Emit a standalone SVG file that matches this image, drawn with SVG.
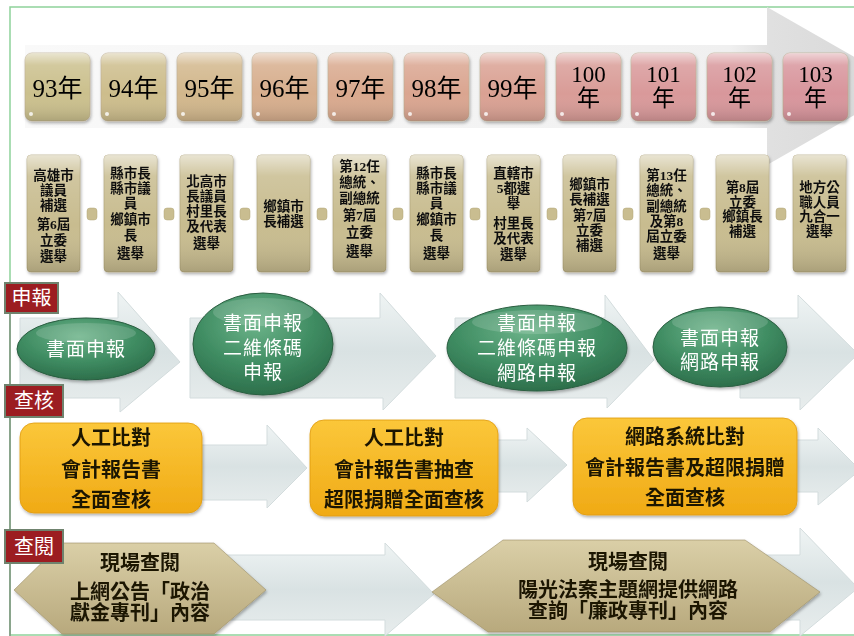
<svg xmlns="http://www.w3.org/2000/svg" width="854" height="636" viewBox="0 0 854 636">
<defs>
<style>
.yr{font-family:"Liberation Serif","Noto Sans CJK TC",serif;font-size:25px;fill:#000;text-anchor:middle}
.yr2{font-family:"Liberation Serif","Noto Sans CJK TC",serif;font-size:23px;fill:#000;text-anchor:middle}
.el{font-family:"Liberation Serif","Noto Sans CJK TC",serif;font-size:13.5px;font-weight:bold;fill:#111;text-anchor:middle}
.wt{font-family:"Liberation Serif","Noto Sans CJK TC",serif;font-size:19px;fill:#fff;text-anchor:middle;letter-spacing:1px}
.ob{font-family:"Liberation Serif","Noto Sans CJK TC",serif;font-size:20px;font-weight:bold;fill:#1a1406;text-anchor:middle}
.hx{font-family:"Liberation Serif","Noto Sans CJK TC",serif;font-size:20px;font-weight:bold;fill:#1a1406;text-anchor:middle}
.lbl{font-family:"Liberation Serif","Noto Sans CJK TC",serif;font-size:20px;fill:#fff;text-anchor:middle}
.lblbox{fill:#9c1d21;stroke:#6f836e;stroke-width:2}
.flow{fill:url(#flowG);stroke:#d3dcdd;stroke-width:1}
.dot{fill:#c9bd90;stroke:#b3a67a;stroke-width:0.5}
.ybox{stroke:#b9a88a;stroke-width:0.6}
.ebox{fill:#c8bc8f;stroke:#a99c70;stroke-width:0.6}
</style>
<linearGradient id="gloss" x1="0" y1="0" x2="0" y2="1">
<stop offset="0" stop-color="#fff" stop-opacity="0.6"/>
<stop offset="0.18" stop-color="#fff" stop-opacity="0.15"/>
<stop offset="0.6" stop-color="#fff" stop-opacity="0"/>
<stop offset="1" stop-color="#000" stop-opacity="0.15"/>
</linearGradient>
<linearGradient id="bigG" x1="25" y1="0" x2="854" y2="0" gradientUnits="userSpaceOnUse">
<stop offset="0" stop-color="#f9f9f9"/>
<stop offset="0.85" stop-color="#f0f0f0"/>
<stop offset="0.9" stop-color="#e0e0e0"/>
<stop offset="1" stop-color="#dadada"/>
</linearGradient>
<linearGradient id="flowG" x1="0" y1="0" x2="0" y2="1">
<stop offset="0" stop-color="#eff4f4"/>
<stop offset="0.5" stop-color="#d9e2e3"/>
<stop offset="1" stop-color="#e8eded"/>
</linearGradient>
<radialGradient id="greenG" cx="0.45" cy="0.3" r="0.75">
<stop offset="0" stop-color="#6cb389"/>
<stop offset="0.55" stop-color="#3f8c62"/>
<stop offset="1" stop-color="#2a6a47"/>
</radialGradient>
<linearGradient id="orangeG" x1="0" y1="0" x2="0" y2="1">
<stop offset="0" stop-color="#fbc73a"/>
<stop offset="1" stop-color="#f0aa15"/>
</linearGradient>
<linearGradient id="hexG" x1="0" y1="0" x2="0" y2="1">
<stop offset="0" stop-color="#dacfa7"/>
<stop offset="1" stop-color="#b8a97d"/>
</linearGradient>
<filter id="sh" x="-20%" y="-20%" width="140%" height="140%">
<feDropShadow dx="1" dy="2" stdDeviation="1.5" flood-color="#000" flood-opacity="0.3"/>
</filter>
</defs>

<rect x="0" y="0" width="854" height="636" fill="#ffffff"/>
<rect x="10" y="7" width="850" height="628" fill="none" stroke="#8fd29b" stroke-width="1.5"/>

<!-- big timeline arrow -->
<polygon id="timeline-arrow" points="25,45 767,45 767,7 905,86 767,165 767,128 25,128" fill="url(#bigG)"/>

<g id="connectors">
<polygon class="flow" points="20,318 118,318 118,292 180,362 120,412 120,398 20,398"/>
<polygon class="flow" points="190,318 380,318 380,293 436,356 383,410 383,398 190,398"/>
<polygon class="flow" points="455,318 605,318 605,295 654,360 607,408 607,398 455,398"/>
<polygon class="flow" points="740,318 798,318 798,295 858,354 800,410 800,398 740,398"/>
<polygon class="flow" points="200,445 267,445 267,425 307,468 267,508 267,500 200,500"/>
<polygon class="flow" points="496,440 527,440 527,428 567,465 527,502 527,492 496,492"/>
<polygon class="flow" points="795,440 818,440 818,428 860,470 818,505 818,492 795,492"/>
<polygon class="flow" points="212,555 385,555 385,543 434,594 385,636 385,620 212,620"/>
<polygon class="flow" points="745,555 800,555 800,528 858,588 800,636 800,620 745,620"/>
<rect class="dot" x="87" y="208" width="10" height="12" rx="3"/>
<rect class="dot" x="164" y="208" width="10" height="12" rx="3"/>
<rect class="dot" x="240" y="208" width="10" height="12" rx="3"/>
<rect class="dot" x="317" y="208" width="10" height="12" rx="3"/>
<rect class="dot" x="393" y="208" width="10" height="12" rx="3"/>
<rect class="dot" x="470" y="208" width="10" height="12" rx="3"/>
<rect class="dot" x="547" y="208" width="10" height="12" rx="3"/>
<rect class="dot" x="623" y="208" width="10" height="12" rx="3"/>
<rect class="dot" x="700" y="208" width="10" height="12" rx="3"/>
<rect class="dot" x="776" y="208" width="10" height="12" rx="3"/>
</g>

<!-- year boxes -->
<g id="y93" filter="url(#sh)"><rect class="ybox" x="25" y="53" width="65" height="68" rx="7" fill="#cbc08d"/><rect x="25" y="53" width="65" height="68" rx="7" fill="url(#gloss)"/><circle cx="31" cy="114" r="2" fill="#fff" opacity="0.8"/><text class="yr" x="57.5" y="97">93年</text></g>
<g id="y94" filter="url(#sh)"><rect class="ybox" x="101" y="53" width="65" height="68" rx="7" fill="#cdbd8c"/><rect x="101" y="53" width="65" height="68" rx="7" fill="url(#gloss)"/><circle cx="107" cy="114" r="2" fill="#fff" opacity="0.8"/><text class="yr" x="133.5" y="97">94年</text></g>
<g id="y95" filter="url(#sh)"><rect class="ybox" x="177" y="53" width="65" height="68" rx="7" fill="#d2b78c"/><rect x="177" y="53" width="65" height="68" rx="7" fill="url(#gloss)"/><circle cx="183" cy="114" r="2" fill="#fff" opacity="0.8"/><text class="yr" x="209.5" y="97">95年</text></g>
<g id="y96" filter="url(#sh)"><rect class="ybox" x="252" y="53" width="65" height="68" rx="7" fill="#d7ae8d"/><rect x="252" y="53" width="65" height="68" rx="7" fill="url(#gloss)"/><circle cx="258" cy="114" r="2" fill="#fff" opacity="0.8"/><text class="yr" x="284.5" y="97">96年</text></g>
<g id="y97" filter="url(#sh)"><rect class="ybox" x="328" y="53" width="65" height="68" rx="7" fill="#d9a98e"/><rect x="328" y="53" width="65" height="68" rx="7" fill="url(#gloss)"/><circle cx="334" cy="114" r="2" fill="#fff" opacity="0.8"/><text class="yr" x="360.5" y="97">97年</text></g>
<g id="y98" filter="url(#sh)"><rect class="ybox" x="404" y="53" width="65" height="68" rx="7" fill="#daa590"/><rect x="404" y="53" width="65" height="68" rx="7" fill="url(#gloss)"/><circle cx="410" cy="114" r="2" fill="#fff" opacity="0.8"/><text class="yr" x="436.5" y="97">98年</text></g>
<g id="y99" filter="url(#sh)"><rect class="ybox" x="480" y="53" width="65" height="68" rx="7" fill="#daa193"/><rect x="480" y="53" width="65" height="68" rx="7" fill="url(#gloss)"/><circle cx="486" cy="114" r="2" fill="#fff" opacity="0.8"/><text class="yr" x="512.5" y="97">99年</text></g>
<g id="y100" filter="url(#sh)"><rect class="ybox" x="556" y="53" width="65" height="68" rx="7" fill="#d99c97"/><rect x="556" y="53" width="65" height="68" rx="7" fill="url(#gloss)"/><circle cx="562" cy="114" r="2" fill="#fff" opacity="0.8"/><text class="yr2" x="588.5" y="82">100</text><text class="yr2" x="588.5" y="106">年</text></g>
<g id="y101" filter="url(#sh)"><rect class="ybox" x="631" y="53" width="65" height="68" rx="7" fill="#d9999a"/><rect x="631" y="53" width="65" height="68" rx="7" fill="url(#gloss)"/><circle cx="637" cy="114" r="2" fill="#fff" opacity="0.8"/><text class="yr2" x="663.5" y="82">101</text><text class="yr2" x="663.5" y="106">年</text></g>
<g id="y102" filter="url(#sh)"><rect class="ybox" x="707" y="53" width="65" height="68" rx="7" fill="#d8979b"/><rect x="707" y="53" width="65" height="68" rx="7" fill="url(#gloss)"/><circle cx="713" cy="114" r="2" fill="#fff" opacity="0.8"/><text class="yr2" x="739.5" y="82">102</text><text class="yr2" x="739.5" y="106">年</text></g>
<g id="y103" filter="url(#sh)"><rect class="ybox" x="783" y="53" width="65" height="68" rx="7" fill="#d8959c"/><rect x="783" y="53" width="65" height="68" rx="7" fill="url(#gloss)"/><circle cx="789" cy="114" r="2" fill="#fff" opacity="0.8"/><text class="yr2" x="815.5" y="82">103</text><text class="yr2" x="815.5" y="106">年</text></g>

<!-- election boxes -->
<g id="e93" filter="url(#sh)"><rect class="ebox" x="27" y="155" width="53" height="117" rx="4"/><rect x="27" y="155" width="53" height="117" rx="4" fill="url(#gloss)"/>
<text class="el" x="53.5" y="180">高雄市</text><text class="el" x="53.5" y="195">議員</text><text class="el" x="53.5" y="210">補選</text><text class="el" x="53.5" y="229">第6屆</text><text class="el" x="53.5" y="245">立委</text><text class="el" x="53.5" y="261">選舉</text></g>
<g id="e94" filter="url(#sh)"><rect class="ebox" x="104" y="155" width="53" height="117" rx="4"/><rect x="104" y="155" width="53" height="117" rx="4" fill="url(#gloss)"/>
<text class="el" x="130.5" y="178">縣市長</text><text class="el" x="130.5" y="193">縣市議</text><text class="el" x="130.5" y="208">員</text><text class="el" x="130.5" y="224">鄉鎮市</text><text class="el" x="130.5" y="240">長</text><text class="el" x="130.5" y="258">選舉</text></g>
<g id="e95" filter="url(#sh)"><rect class="ebox" x="180" y="155" width="53" height="117" rx="4"/><rect x="180" y="155" width="53" height="117" rx="4" fill="url(#gloss)"/>
<text class="el" x="206.5" y="186">北高市</text><text class="el" x="206.5" y="201">長議員</text><text class="el" x="206.5" y="216">村里長</text><text class="el" x="206.5" y="231">及代表</text><text class="el" x="206.5" y="248">選舉</text></g>
<g id="e96" filter="url(#sh)"><rect class="ebox" x="257" y="155" width="53" height="117" rx="4"/><rect x="257" y="155" width="53" height="117" rx="4" fill="url(#gloss)"/>
<text class="el" x="283.5" y="211">鄉鎮市</text><text class="el" x="283.5" y="226">長補選</text></g>
<g id="e97" filter="url(#sh)"><rect class="ebox" x="333" y="155" width="53" height="117" rx="4"/><rect x="333" y="155" width="53" height="117" rx="4" fill="url(#gloss)"/>
<text class="el" x="359.5" y="171">第12任</text><text class="el" x="359.5" y="187">總統、</text><text class="el" x="359.5" y="203">副總統</text><text class="el" x="359.5" y="220">第7屆</text><text class="el" x="359.5" y="237">立委</text><text class="el" x="359.5" y="256">選舉</text></g>
<g id="e98" filter="url(#sh)"><rect class="ebox" x="410" y="155" width="53" height="117" rx="4"/><rect x="410" y="155" width="53" height="117" rx="4" fill="url(#gloss)"/>
<text class="el" x="436.5" y="178">縣市長</text><text class="el" x="436.5" y="193">縣市議</text><text class="el" x="436.5" y="208">員</text><text class="el" x="436.5" y="224">鄉鎮市</text><text class="el" x="436.5" y="240">長</text><text class="el" x="436.5" y="258">選舉</text></g>
<g id="e99" filter="url(#sh)"><rect class="ebox" x="487" y="155" width="53" height="117" rx="4"/><rect x="487" y="155" width="53" height="117" rx="4" fill="url(#gloss)"/>
<text class="el" x="513.5" y="178">直轄市</text><text class="el" x="513.5" y="193">5都選</text><text class="el" x="513.5" y="208">舉</text><text class="el" x="513.5" y="228">村里長</text><text class="el" x="513.5" y="243">及代表</text><text class="el" x="513.5" y="259">選舉</text></g>
<g id="e100" filter="url(#sh)"><rect class="ebox" x="563" y="155" width="53" height="117" rx="4"/><rect x="563" y="155" width="53" height="117" rx="4" fill="url(#gloss)"/>
<text class="el" x="589.5" y="189">鄉鎮市</text><text class="el" x="589.5" y="204">長補選</text><text class="el" x="589.5" y="220">第7屆</text><text class="el" x="589.5" y="235">立委</text><text class="el" x="589.5" y="250">補選</text></g>
<g id="e101" filter="url(#sh)"><rect class="ebox" x="640" y="155" width="53" height="117" rx="4"/><rect x="640" y="155" width="53" height="117" rx="4" fill="url(#gloss)"/>
<text class="el" x="666.5" y="180">第13任</text><text class="el" x="666.5" y="195">總統、</text><text class="el" x="666.5" y="211">副總統</text><text class="el" x="666.5" y="226">及第8</text><text class="el" x="666.5" y="241">屆立委</text><text class="el" x="666.5" y="258">選舉</text></g>
<g id="e102" filter="url(#sh)"><rect class="ebox" x="716" y="155" width="53" height="117" rx="4"/><rect x="716" y="155" width="53" height="117" rx="4" fill="url(#gloss)"/>
<text class="el" x="742.5" y="192">第8屆</text><text class="el" x="742.5" y="207">立委</text><text class="el" x="742.5" y="221">鄉鎮長</text><text class="el" x="742.5" y="236">補選</text></g>
<g id="e103" filter="url(#sh)"><rect class="ebox" x="793" y="155" width="53" height="117" rx="4"/><rect x="793" y="155" width="53" height="117" rx="4" fill="url(#gloss)"/>
<text class="el" x="819.5" y="192">地方公</text><text class="el" x="819.5" y="207">職人員</text><text class="el" x="819.5" y="221">九合一</text><text class="el" x="819.5" y="236">選舉</text></g>

<line x1="10" y1="313" x2="10" y2="636" stroke="#7f927f" stroke-width="1.5"/>

<!-- 申報 row -->
<g id="sb1" filter="url(#sh)"><ellipse cx="86" cy="349" rx="69" ry="31" fill="url(#greenG)" stroke="#2b5e41" stroke-width="1"/><ellipse cx="86" cy="333" rx="50" ry="10" fill="#fff" opacity="0.15"/><text class="wt" x="86" y="356">書面申報</text></g>
<g id="sb2" filter="url(#sh)"><ellipse cx="263" cy="344" rx="70" ry="51" fill="url(#greenG)" stroke="#2b5e41" stroke-width="1"/><ellipse cx="263" cy="312" rx="50" ry="14" fill="#fff" opacity="0.15"/><text class="wt" x="263" y="330">書面申報</text><text class="wt" x="263" y="355">二維條碼</text><text class="wt" x="263" y="379">申報</text></g>
<g id="sb3" filter="url(#sh)"><ellipse cx="537" cy="348" rx="90" ry="43" fill="url(#greenG)" stroke="#2b5e41" stroke-width="1"/><ellipse cx="537" cy="322" rx="65" ry="12" fill="#fff" opacity="0.15"/><text class="wt" x="537" y="330">書面申報</text><text class="wt" x="537" y="355">二維條碼申報</text><text class="wt" x="537" y="380">網路申報</text></g>
<g id="sb4" filter="url(#sh)"><ellipse cx="720" cy="347" rx="67" ry="40" fill="url(#greenG)" stroke="#2b5e41" stroke-width="1"/><ellipse cx="720" cy="322" rx="48" ry="11" fill="#fff" opacity="0.15"/><text class="wt" x="720" y="345">書面申報</text><text class="wt" x="720" y="369">網路申報</text></g>

<!-- 查核 row -->
<g id="ck1" filter="url(#sh)"><rect x="20" y="423" width="182" height="90" rx="14" fill="url(#orangeG)" stroke="#e09a10" stroke-width="0.8"/><text class="ob" x="111" y="445">人工比對</text><text class="ob" x="111" y="477">會計報告書</text><text class="ob" x="111" y="507">全面查核</text></g>
<g id="ck2" filter="url(#sh)"><rect x="310" y="420" width="188" height="96" rx="14" fill="url(#orangeG)" stroke="#e09a10" stroke-width="0.8"/><text class="ob" x="404" y="445">人工比對</text><text class="ob" x="404" y="477">會計報告書抽查</text><text class="ob" x="404" y="507">超限捐贈全面查核</text></g>
<g id="ck3" filter="url(#sh)"><rect x="573" y="418" width="224" height="97" rx="14" fill="url(#orangeG)" stroke="#e09a10" stroke-width="0.8"/><text class="ob" x="685" y="444">網路系統比對</text><text class="ob" x="685" y="475">會計報告書及超限捐贈</text><text class="ob" x="685" y="505">全面查核</text></g>

<!-- 查閱 row -->
<g id="cy1" filter="url(#sh)"><polygon points="14,590 62,543 214,543 266,590 214,634 62,634" fill="url(#hexG)" stroke="#9c8e66" stroke-width="0.6"/><text class="hx" x="140" y="570">現場查閱</text><text class="hx" x="140" y="599">上網公告「政治</text><text class="hx" x="140" y="620">獻金專刊」內容</text></g>
<g id="cy2" filter="url(#sh)"><polygon points="432,592 503,540 745,540 820,592 770,632 488,632" fill="url(#hexG)" stroke="#9c8e66" stroke-width="0.6"/><text class="hx" x="628" y="569">現場查閱</text><text class="hx" x="628" y="597">陽光法案主題網提供網路</text><text class="hx" x="628" y="618">查詢「廉政專刊」內容</text></g>

<!-- section labels -->
<g id="lbl-shenbao"><rect class="lblbox" x="5" y="283" width="53" height="30"/><text class="lbl" x="31.5" y="305">申報</text></g>
<g id="lbl-chahe"><rect class="lblbox" x="5" y="385" width="58" height="32"/><text class="lbl" x="34" y="408">查核</text></g>
<g id="lbl-chayue"><rect class="lblbox" x="5" y="530" width="58" height="33"/><text class="lbl" x="34" y="554">查閱</text></g>
</svg>
